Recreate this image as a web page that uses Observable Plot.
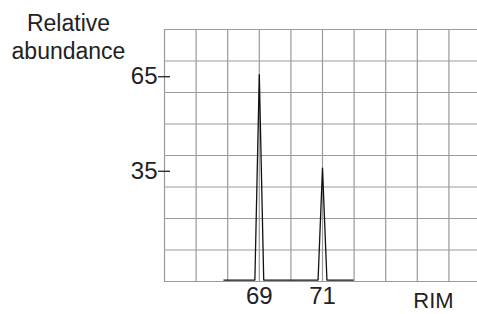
<!DOCTYPE html>
<html>
<head>
<meta charset="utf-8">
<script src="https://cdn.jsdelivr.net/npm/d3@7"></script>
<script src="https://cdn.jsdelivr.net/npm/@observablehq/plot@0.6"></script>
<style>
  html, body { margin: 0; padding: 0; background: #fff; }
  svg { display: block; }
</style>
</head>
<body>
<div id="chart"></div>
<script>
// Data
const rim =       [67.88, 68.86, 69.0, 69.14, 70.86, 71.0, 71.14, 71.97];
const abundance = [0.45,  0.45,  65.7, 0.45,  0.45,  36.0, 0.45,  0.45];
const gridX = [66, 67, 68, 69, 70, 71, 72, 73, 74, 75];
const gridY = [0, 10, 20, 30, 40, 50, 60, 70, 80];
const yTickLabels = [35, 65];
const xTickLabels = [69, 71];
const yTitle = "Relative\nabundance";
const xTitle = "RIM";

const points = rim.map((x, i) => ({x, y: abundance[i]}));

const chart = Plot.plot({
  width: 477,
  height: 314,
  marginLeft: 164,
  marginRight: 0,
  marginTop: 29,
  marginBottom: 33,
  style: {fontFamily: "'Liberation Sans', Arial, sans-serif", background: "#fff", color: "#222"},
  x: {domain: [66, 75.905]},
  y: {domain: [0, 80]},
  marks: [
    Plot.ruleX(gridX, {stroke: "#9a9a9a", strokeWidth: 1.2}),
    Plot.ruleY(gridY, {stroke: "#9a9a9a", strokeWidth: 1.2}),
    Plot.line(points, {x: "x", y: "y", stroke: "#111", strokeWidth: 1.3}),
    Plot.axisY(yTickLabels, {tickSize: 12, dx: 6, tickPadding: 1, fontSize: 24, label: null, stroke: "#111", strokeWidth: 1.2, fill: "#222"}),
    Plot.axisX(xTickLabels, {tickSize: 0, tickPadding: 5, fontSize: 24, label: null, fill: "#222"}),
    Plot.text([xTitle], {frameAnchor: "bottom-right", text: d => d, dx: -44, dy: 11, lineAnchor: "top", textAnchor: "middle", fontSize: 22, fill: "#222"}),
    Plot.text([yTitle], {frameAnchor: "top-left", text: d => d, dx: -96, dy: -18, lineAnchor: "top", textAnchor: "middle", fontSize: 23, lineHeight: 1.22, fill: "#222"})
  ]
});
document.getElementById("chart").appendChild(chart);
</script>
</body>
</html>
